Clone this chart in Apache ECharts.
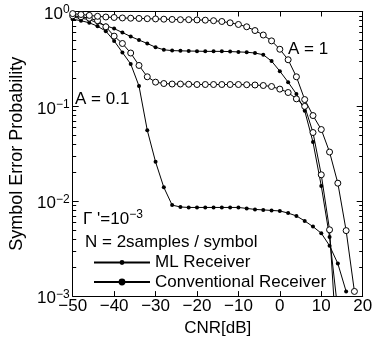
<!DOCTYPE html>
<html><head><meta charset="utf-8">
<script src="https://cdn.jsdelivr.net/npm/echarts@6/dist/echarts.min.js"></script>
<style>html,body{margin:0;padding:0;background:#fff}#c{width:378px;height:342px}</style>
</head><body><div id="c"></div>
<script>
// CNR values (dB) where markers are placed
const cnr = [-50,-48,-46,-44,-42,-40,-38,-36,-34,-32,-30,-28,-26,-24,-22,-20,-18,-16,-14,-12,-10,-8,-6,-4,-2,0,2,4,6,8,10,12,14,16,18];
// Conventional receiver, A = 1 (open circles)
const convA1 = [0.95,0.93,0.91,0.89,0.875,0.865,0.855,0.85,0.845,0.84,0.835,0.83,0.825,0.82,0.82,0.815,0.81,0.80,0.785,0.76,0.73,0.69,0.63,0.565,0.49,0.40,0.31,0.205,0.118,0.08,0.057,0.033,0.0155,0.0049,0.00112];
// ML receiver, A = 1 (filled dots)
const mlA1 = [0.87,0.85,0.82,0.76,0.71,0.66,0.60,0.545,0.50,0.46,0.42,0.395,0.387,0.385,0.383,0.382,0.38,0.38,0.38,0.378,0.375,0.372,0.365,0.35,0.30,0.235,0.18,0.135,0.09,0.042,0.0145,0.0042,0.0007,null,null];
// Conventional receiver, A = 0.1 (open circles)
const convA01 = [0.90,0.88,0.85,0.80,0.69,0.55,0.46,0.365,0.27,0.205,0.18,0.174,0.172,0.172,0.171,0.17,0.17,0.17,0.17,0.17,0.17,0.169,0.168,0.166,0.162,0.152,0.14,0.12,0.10,0.053,0.019,0.005,0.0002,null,null];
// ML receiver, A = 0.1 (filled dots)
const mlA01 = [0.83,0.80,0.76,0.70,0.62,0.49,0.37,0.28,0.164,0.056,0.026,0.014,0.0091,0.0087,0.0086,0.0086,0.0086,0.0086,0.0086,0.0086,0.0086,0.0084,0.0082,0.0081,0.008,0.0079,0.0075,0.007,0.0062,0.0054,0.0046,0.0034,0.0022,0.00112,null];

const xTicks = [-50,-40,-30,-20,-10,0,10,20];
const yMajor = [0.001,0.01,0.1,1];
const yMajorExp = ['−3','−2','−1','0'];
const yMinor = [];
[0.001,0.01,0.1].forEach(d=>{for(let k=2;k<=9;k++) yMinor.push(+(d*k).toPrecision(3));});

const FF = '"Liberation Sans", Arial, Helvetica, sans-serif';
function pairs(arr){ return cnr.map((x,i)=>arr[i]==null?null:[x,arr[i]]).filter(Boolean); }
const lineStyle = {color:'#000', width:1};
const mlItem = {color:'#000'};
const convItem = {color:'#fff', borderColor:'#000', borderWidth:1};

const chart = echarts.init(document.getElementById('c'), null, {renderer:'canvas'});
const rich = {
  b:{fontSize:17, lineHeight:20, fontFamily:FF, color:'#000'},
  s:{fontSize:12, lineHeight:12, fontFamily:FF, color:'#000', verticalAlign:'top'}
};
function yFmt(v){
  const i = yMajor.findIndex(m=>Math.abs(Math.log10(m)-Math.log10(v))<1e-6);
  return '{b|10}{s|' + (i>=0?yMajorExp[i]:'') + '}';
}
const axLine = {show:true, onZero:false, lineStyle:{color:'#000', width:1}};
const yBase = {type:'log', logBase:10, min:0.001, max:1, splitLine:{show:false}, axisPointer:{show:false}};
const xBase = {type:'value', min:-50, max:20, interval:10, splitLine:{show:false}};

chart.setOption({
  animation:false,
  backgroundColor:'#fff',
  grid:{left:72.7, right:15.3, top:11.5, bottom:40.3},
  xAxis:[
    Object.assign({}, xBase, {position:'bottom',
      axisLine:axLine,
      axisTick:{inside:true, length:5, customValues:xTicks, lineStyle:{color:'#000'}},
      axisLabel:{customValues:xTicks, margin:2, fontSize:17, fontFamily:FF, color:'#000',
        formatter:v=> v<0 ? '−'+(-v) : String(v)},
      name:'CNR[dB]', nameLocation:'middle', nameGap:19,
      nameTextStyle:{fontSize:17, fontFamily:FF, color:'#000'}}),
    Object.assign({}, xBase, {position:'top',
      axisLine:axLine,
      axisTick:{inside:true, length:5, customValues:xTicks, lineStyle:{color:'#000'}},
      axisLabel:{show:false}})
  ],
  yAxis:[
    Object.assign({}, yBase, {position:'left',
      axisLine:axLine,
      axisTick:{inside:true, length:6, customValues:yMajor, lineStyle:{color:'#000'}},
      axisLabel:{customValues:yMajor, formatter:yFmt, rich:rich, margin:3, padding:[5,0,0,0]},
      name:'Symbol Error Probability', nameLocation:'middle', nameGap:38,
      nameTextStyle:{fontSize:18, fontFamily:FF, color:'#000'}}),
    Object.assign({}, yBase, {position:'left',
      axisLine:{show:false, onZero:false},
      axisTick:{show:true, inside:true, length:3.5, customValues:yMinor, lineStyle:{color:'#000'}},
      axisLabel:{show:false}}),
    Object.assign({}, yBase, {position:'right',
      axisLine:axLine,
      axisTick:{inside:true, length:6, customValues:yMajor, lineStyle:{color:'#000'}},
      axisLabel:{show:false}}),
    Object.assign({}, yBase, {position:'right',
      axisLine:{show:false, onZero:false},
      axisTick:{show:true, inside:true, length:3.5, customValues:yMinor, lineStyle:{color:'#000'}},
      axisLabel:{show:false}})
  ],
  legend:{
    orient:'vertical', left:93, top:254, itemWidth:56, itemHeight:6, itemGap:2.5, padding:0,
    selectedMode:false,
    textStyle:{fontSize:17, lineHeight:17, fontFamily:FF, color:'#000'},
    data:[{name:'ML Receiver'},
          {name:'Conventional Receiver', itemStyle:{color:'#000', borderColor:'#000'}}]
  },
  graphic:[
    {type:'text', x:288, y:49, style:{text:'A = 1', font:'17px '+FF, fill:'#000', verticalAlign:'middle', textVerticalAlign:'middle'}},
    {type:'text', x:75, y:99.5, style:{text:'A = 0.1', font:'17px '+FF, fill:'#000', verticalAlign:'middle', textVerticalAlign:'middle'}},
    {type:'text', x:83, y:219, style:{text:"{b|Γ '=10}{s|−3}", rich:rich, fill:'#000', verticalAlign:'middle', textVerticalAlign:'middle'}},
    {type:'text', x:85, y:242, style:{text:'N = 2samples / symbol', font:'17px '+FF, fill:'#000', verticalAlign:'middle', textVerticalAlign:'middle'}}
  ],
  series:[
    {name:'ML Receiver', type:'line', data:pairs(mlA1), symbol:'circle', symbolSize:4, itemStyle:mlItem, lineStyle:lineStyle, emphasis:{disabled:true}, z:2},
    {name:'ML Receiver', type:'line', data:pairs(mlA01), symbol:'circle', symbolSize:4, itemStyle:mlItem, lineStyle:lineStyle, emphasis:{disabled:true}, z:2},
    {name:'Conventional Receiver', type:'line', data:pairs(convA01), symbol:'circle', symbolSize:6, itemStyle:convItem, lineStyle:lineStyle, emphasis:{disabled:true}, z:3},
    {name:'Conventional Receiver', type:'line', data:pairs(convA1), symbol:'circle', symbolSize:6, itemStyle:convItem, lineStyle:lineStyle, emphasis:{disabled:true}, z:3}
  ]
});
</script></body></html>
